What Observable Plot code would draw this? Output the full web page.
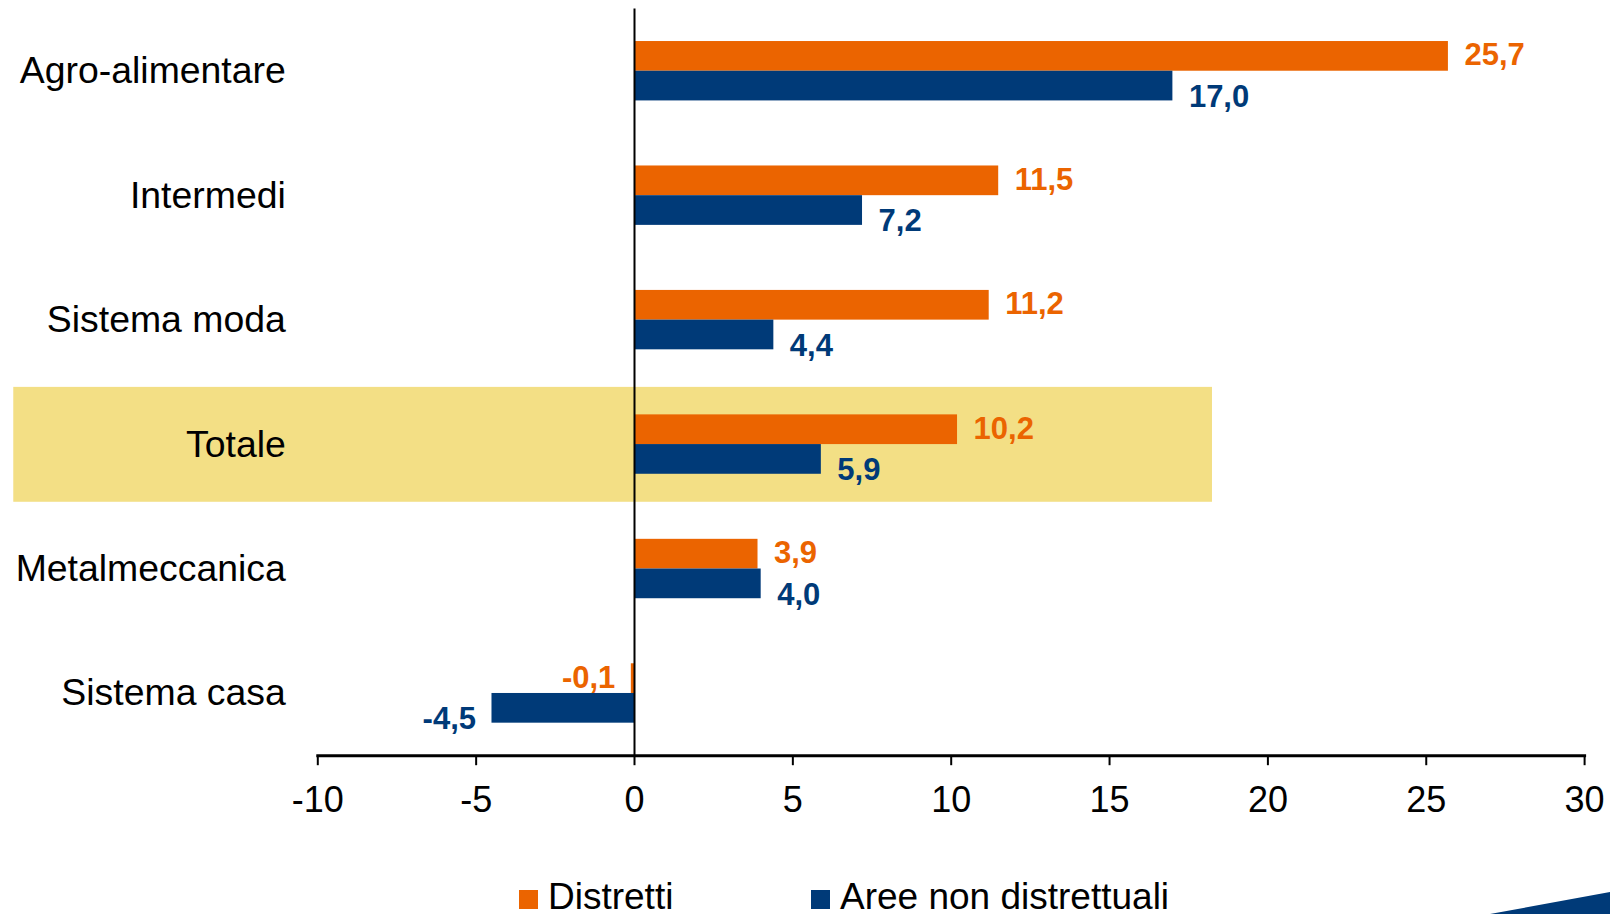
<!DOCTYPE html>
<html>
<head>
<meta charset="utf-8">
<script src="https://cdn.jsdelivr.net/npm/d3@7"></script>
<script src="https://cdn.jsdelivr.net/npm/@observablehq/plot@0.6"></script>
<style>
  html, body { margin: 0; padding: 0; background: #fff; }
  body { width: 1610px; height: 914px; overflow: hidden; position: relative;
         font-family: "Liberation Sans", Arial, sans-serif; }
  #chart { position: absolute; left: 0; top: 0; }
  #legend { position: absolute; left: 519px; top: 877px; height: 40px; font-size: 37px;
            color: #000; white-space: nowrap; line-height: 40px; }
  #legend .item { position: absolute; top: 0; }
  #legend .sw { display: inline-block; width: 19px; height: 19px; vertical-align: 0px; margin-right: 10px; }
  #corner { position: absolute; left: 0; top: 0; }
</style>
</head>
<body>
<div id="chart"></div>
<div id="legend"></div>
<svg id="corner" width="1610" height="914"></svg>
<script>
// ---- data ----
const categories = ["Agro-alimentare", "Intermedi", "Sistema moda", "Totale", "Metalmeccanica", "Sistema casa"];
const distretti = [25.7, 11.5, 11.2, 10.2, 3.9, -0.1];
const areeNonDistrettuali = [17.0, 7.2, 4.4, 5.9, 4.0, -4.5];
const seriesNames = ["Distretti", "Aree non distrettuali"];
const xTicks = [-10, -5, 0, 5, 10, 15, 20, 25, 30];
const highlightCategory = "Totale";
const highlightSpan = [-19.6, 18.25];

// ---- styling ----
const ORANGE = "#EB6400";
const BLUE = "#003A78";
const YELLOW = "#F3DF85";
const FONT = "'Liberation Sans', Arial, sans-serif";

const W = 1610, H = 850;
const mTop = 8.5, mBottom = H - 755.2, mLeft = 317.3, mRight = W - 1584.1;
const paddingInner = 0.5227, paddingOuter = paddingInner / 2;
const step = (H - mTop - mBottom) / categories.length;
const bandwidth = step * (1 - paddingInner);
const half = bandwidth / 2;      // height of one bar
const barMid = half / 2;         // offset of a bar's centre from the band centre

const rows = [];
categories.forEach((c, i) => {
  rows.push({category: c, series: seriesNames[0], value: distretti[i]});
  rows.push({category: c, series: seriesNames[1], value: areeNonDistrettuali[i]});
});
const rowsD = rows.filter(d => d.series === seriesNames[0]);
const rowsA = rows.filter(d => d.series === seriesNames[1]);
const fmt = d => d.value.toFixed(1).replace(".", ",");

function labels(data, color, dy) {
  return [
    Plot.text(data.filter(d => d.value >= 0), {x: "value", y: "category", text: fmt, dx: 16, dy,
      textAnchor: "start", fill: color, fontWeight: "bold", fontSize: 31}),
    Plot.text(data.filter(d => d.value < 0), {x: "value", y: "category", text: fmt, dx: -16, dy,
      textAnchor: "end", fill: color, fontWeight: "bold", fontSize: 31})
  ];
}

const chart = Plot.plot({
  width: W, height: H,
  marginTop: mTop, marginBottom: mBottom, marginLeft: mLeft, marginRight: mRight,
  style: {fontFamily: FONT, fontSize: "36px", color: "#000", background: "transparent"},
  x: {domain: [xTicks[0], xTicks[xTicks.length - 1]], label: null},
  y: {domain: categories, paddingInner, paddingOuter, round: false, label: null},
  marks: [
    Plot.barX([{category: highlightCategory}], {x1: highlightSpan[0], x2: highlightSpan[1], y: "category",
      fill: YELLOW, insetTop: -27.5, insetBottom: -28}),
    Plot.barX(rowsD, {x: "value", y: "category", fill: ORANGE, insetBottom: half}),
    Plot.barX(rowsA, {x: "value", y: "category", fill: BLUE, insetTop: half}),
    Plot.ruleX([0], {stroke: "#000", strokeWidth: 2}),
    Plot.frame({anchor: "bottom", stroke: "#000", strokeWidth: 3}),
    Plot.axisX({ticks: xTicks, tickFormat: d => String(d), tickSize: 10, tickPadding: 21,
      fontSize: 36, stroke: "#000", strokeWidth: 2, fill: "#000", label: null}),
    Plot.axisY({tickSize: 0, tickPadding: 32, fontSize: 37.4, fill: "#000", label: null}),
    ...labels(rowsD, ORANGE, -barMid - 1),
    ...labels(rowsA, BLUE, barMid + 11)
  ]
});
document.getElementById("chart").appendChild(chart);

// ---- legend ----
const legend = document.getElementById("legend");
const legendColors = [ORANGE, BLUE];
const legendOffsets = [0, 292];
seriesNames.forEach((name, i) => {
  const item = document.createElement("span");
  item.className = "item";
  item.style.left = legendOffsets[i] + "px";
  const sw = document.createElement("span");
  sw.className = "sw";
  sw.style.background = legendColors[i];
  item.appendChild(sw);
  item.appendChild(document.createTextNode(name));
  legend.appendChild(item);
});

// ---- decorative corner wedge ----
const corner = d3.select("#corner");
corner.append("polygon").attr("points", "1490,914 1610,892 1610,914").attr("fill", BLUE);
</script>
</body>
</html>
